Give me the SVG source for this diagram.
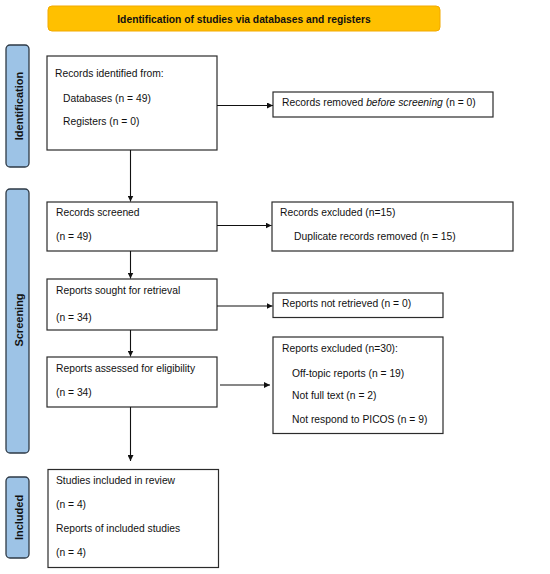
<svg xmlns="http://www.w3.org/2000/svg" width="550" height="574" viewBox="0 0 550 574">
<defs>
<style>
.box{fill:#fff;stroke:#2b2b2b;stroke-width:1.2}
.side{fill:#9DC3E6;stroke:#2E3A46;stroke-width:1.3}
.t{font-family:"Liberation Sans",Arial,sans-serif;font-size:10.3px;fill:#111}
.b{font-family:"Liberation Sans",Arial,sans-serif;font-weight:bold;fill:#111}
.c{stroke:#111;stroke-width:1.1;fill:none;marker-end:url(#ah)}
</style>
<marker id="ah" viewBox="0 0 10 10" refX="10" refY="5" markerWidth="6" markerHeight="6" markerUnits="userSpaceOnUse" orient="auto">
<path d="M0,0 L10,5 L0,10 z" fill="#111"/>
</marker>
</defs>
<rect width="550" height="574" fill="#fff"/>

<g id="title">
<rect x="48" y="6" width="392" height="25" rx="4" fill="#FFC000" stroke="#F2A900" stroke-width="1"/>
<text class="b" x="244" y="22.5" font-size="10.3" text-anchor="middle">Identification of studies via databases and registers</text>
</g>

<g id="lbl-identification">
<rect class="side" x="6" y="45" width="23" height="122" rx="4"/>
<text class="b" font-size="11" text-anchor="middle" transform="translate(23.3,106) rotate(-90)">Identification</text>
</g>
<g id="lbl-screening">
<rect class="side" x="6" y="189" width="23" height="264" rx="4"/>
<text class="b" font-size="11" text-anchor="middle" transform="translate(23.3,320) rotate(-90)">Screening</text>
</g>
<g id="lbl-included">
<rect class="side" x="6" y="477" width="23" height="81" rx="4"/>
<text class="b" font-size="11" text-anchor="middle" transform="translate(23.3,517.5) rotate(-90)">Included</text>
</g>

<g id="n-identified">
<rect class="box" x="47" y="56" width="170" height="94"/>
<text class="t" x="55" y="76.5">Records identified from:</text>
<text class="t" x="63" y="101.5">Databases (n = 49)</text>
<text class="t" x="63" y="125">Registers (n = 0)</text>
</g>
<g id="n-removed">
<rect class="box" x="273" y="92" width="220" height="25"/>
<text class="t" x="282" y="106">Records removed <tspan font-style="italic">before screening</tspan> (n = 0)</text>
</g>
<g id="n-screened">
<rect class="box" x="47" y="202" width="170" height="49"/>
<text class="t" x="56" y="216">Records screened</text>
<text class="t" x="56" y="239.5">(n = 49)</text>
</g>
<g id="n-excluded">
<rect class="box" x="272" y="202" width="241" height="49"/>
<text class="t" x="280" y="216">Records excluded (n=15)</text>
<text class="t" x="294" y="239.5">Duplicate records removed (n = 15)</text>
</g>
<g id="n-sought">
<rect class="box" x="47" y="279" width="170" height="51"/>
<text class="t" x="56" y="294">Reports sought for retrieval</text>
<text class="t" x="56" y="320.5">(n = 34)</text>
</g>
<g id="n-notretrieved">
<rect class="box" x="273" y="293" width="170" height="24.5"/>
<text class="t" x="282" y="306.5">Reports not retrieved (n = 0)</text>
</g>
<g id="n-assessed">
<rect class="box" x="47" y="357" width="170" height="50"/>
<text class="t" x="56" y="372">Reports assessed for eligibility</text>
<text class="t" x="56" y="396">(n = 34)</text>
</g>
<g id="n-repexcluded">
<rect class="box" x="273" y="337" width="170" height="96.5"/>
<text class="t" x="282" y="351.5">Reports excluded (n=30):</text>
<text class="t" x="292" y="376.5">Off-topic reports (n = 19)</text>
<text class="t" x="292" y="399">Not full text (n = 2)</text>
<text class="t" x="292" y="423">Not respond to PICOS (n = 9)</text>
</g>
<g id="n-included">
<rect class="box" x="48" y="469.5" width="170.5" height="98"/>
<text class="t" x="56" y="484">Studies included in review</text>
<text class="t" x="56" y="508">(n = 4)</text>
<text class="t" x="56" y="531.5">Reports of included studies</text>
<text class="t" x="56" y="555.5">(n = 4)</text>
</g>

<g id="connectors">
<line class="c" x1="217" y1="105.5" x2="273" y2="105.5"/>
<line class="c" x1="130.5" y1="150" x2="130.5" y2="201.5"/>
<line class="c" x1="217" y1="225.5" x2="271.5" y2="225.5"/>
<line class="c" x1="130.5" y1="251" x2="130.5" y2="278.5"/>
<line class="c" x1="217" y1="306" x2="272.5" y2="306"/>
<line class="c" x1="130.5" y1="330" x2="130.5" y2="356.5"/>
<line class="c" x1="220" y1="385" x2="270" y2="385"/>
<line class="c" x1="130.5" y1="407" x2="130.5" y2="461"/>
</g>
</svg>
